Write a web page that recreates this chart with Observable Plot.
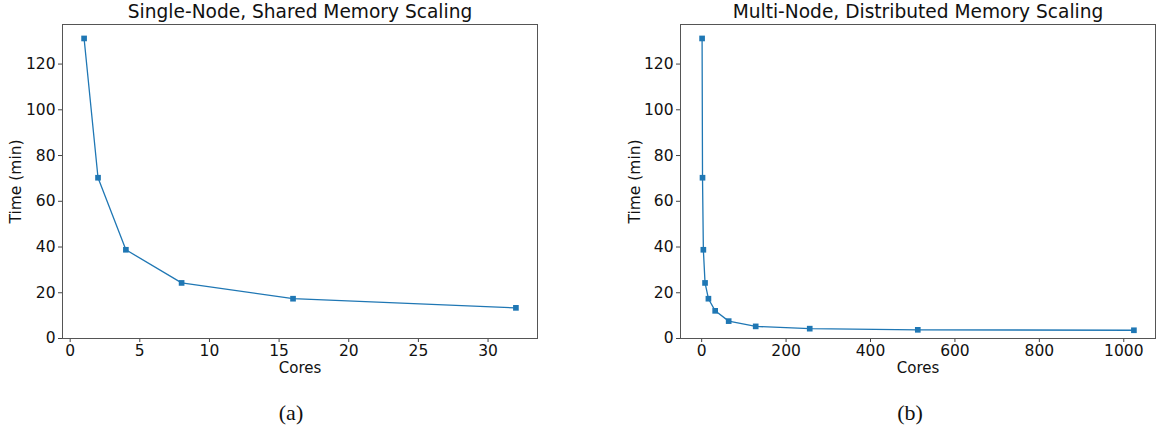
<!DOCTYPE html>
<html>
<head>
<meta charset="utf-8">
<script src="https://cdn.jsdelivr.net/npm/d3@7"></script>
<script src="https://cdn.jsdelivr.net/npm/@observablehq/plot@0.6"></script>
<style>
  html, body { margin: 0; padding: 0; background: #fff; }
  #wrap { position: relative; width: 1159px; height: 425px; overflow: hidden; font-family: "DejaVu Sans", sans-serif; }
  .panel { position: absolute; top: 0; }
  .title { position: absolute; top: 1px; font-size: 18.6px; color: #111; text-align: center; white-space: nowrap; transform: translateX(-50%); }
  .cap { position: absolute; top: 402px; line-height: 1; font-family: "Liberation Serif", "Times New Roman", serif; font-size: 22px; color: #111; transform: translateX(-50%); }
</style>
</head>
<body>
<div id="wrap">
  <div class="title" style="left:300px">Single-Node, Shared Memory Scaling</div>
  <div class="title" style="left:918px">Multi-Node, Distributed Memory Scaling</div>
  <div id="left" class="panel" style="left:0px"></div>
  <div id="right" class="panel" style="left:580px"></div>
  <div class="cap" style="left:291px">(a)</div>
  <div class="cap" style="left:910px">(b)</div>
</div>
<script>
// Data
const singleCores = [1, 2, 4, 8, 16, 32];
const singleTime = [131.2, 70.3, 38.8, 24.3, 17.4, 13.4];
const multiCores = [1, 2, 4, 8, 16, 32, 64, 128, 256, 512, 1024];
const multiTime = [131.2, 70.3, 38.8, 24.3, 17.4, 12.1, 7.6, 5.3, 4.3, 3.8, 3.6];
const yTicks = [0, 20, 40, 60, 80, 100, 120];
const singleXTicks = [0, 5, 10, 15, 20, 25, 30];
const multiXTicks = [0, 200, 400, 600, 800, 1000];
const xLabel = "Cores";
const yLabel = "Time (min)";

const blue = "#1f77b4";

function panel(cores, times, xDomain, xTicks, opts) {
  const data = cores.map((c, i) => ({cores: c, time: times[i]}));
  return Plot.plot({
    width: opts.width,
    height: 390,
    marginLeft: opts.marginLeft,
    marginRight: opts.marginRight,
    marginTop: 24,
    marginBottom: 52,
    style: {fontFamily: "DejaVu Sans, sans-serif", color: "#111", background: "transparent", overflow: "visible"},
    x: {domain: xDomain},
    y: {domain: [0, 137.3]},
    marks: [
      Plot.axisX({ticks: xTicks, tickFormat: d => String(d), tickSize: 4, tickPadding: 2, fontSize: 15.5, stroke: "#444", label: null}),
      Plot.axisY({ticks: yTicks, tickFormat: d => String(d), tickSize: 4, tickPadding: 3, fontSize: 15.5, stroke: "#444", label: null}),
      Plot.line(data, {x: "cores", y: "time", stroke: blue, strokeWidth: 1.3}),
      Plot.dot(data, {x: "cores", y: "time", symbol: "square", r: 3.2, fill: blue, stroke: "none"}),
      Plot.frame({stroke: "#555", strokeWidth: 1}),
      Plot.text([xLabel], {frameAnchor: "bottom", dy: 30, text: d => d, fontSize: 15, textAnchor: "middle", lineAnchor: "middle", fill: "#111"}),
      Plot.text([yLabel], {frameAnchor: "left", dx: opts.yLabelDx, text: d => d, rotate: -90, fontSize: 15.5, textAnchor: "middle", lineAnchor: "middle", fill: "#111"})
    ]
  });
}

document.getElementById("left").append(
  panel(singleCores, singleTime, [-0.55, 33.55], singleXTicks, {width: 580, marginLeft: 62, marginRight: 43, yLabelDx: -46})
);
document.getElementById("right").append(
  panel(multiCores, multiTime, [-50.15, 1075.15], multiXTicks, {width: 579, marginLeft: 100, marginRight: 4, yLabelDx: -45})
);
</script>
</body>
</html>
